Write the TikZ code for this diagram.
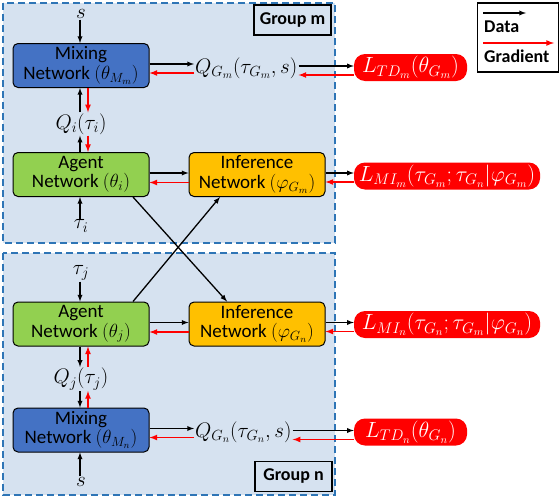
\documentclass[tikz,border=0pt]{standalone}
\usepackage{fix-cm}
\usepackage{fontspec}
\setmainfont{Carlito}
\usetikzlibrary{arrows, positioning, calc}
\definecolor{grpfill}{HTML}{D6E2F0}
\definecolor{grpline}{HTML}{2E75B6}
\definecolor{mixblue}{HTML}{4472C4}
\definecolor{agtgreen}{HTML}{92D050}
\definecolor{infgold}{HTML}{FFC000}

\begin{document}
\begin{tikzpicture}[x=1pt, y=-1pt,%
  group/.style={draw=grpline, line width=2.6pt, dash pattern=on 7pt off 4pt, fill=grpfill},%
  grplabel/.style={draw, line width=1.8pt, minimum width=77, minimum height=30, font=\bfseries\fontsize{18}{20}\selectfont},%
  net/.style={draw, rounded corners=5pt, line width=1pt, minimum width=136, minimum height=44, align=center, inner sep=0pt, font=\fontsize{19}{19.5}\selectfont},%
  loss/.style={fill=red, text=white, rounded corners=11pt, minimum height=27, inner sep=1pt, font=\fontsize{22}{24}\selectfont},%
  lbl/.style={inner sep=1pt, font=\fontsize{21}{23}\selectfont},%
  data/.style={->, >=latex, line width=1.3pt},%
  grad/.style={->, >=latex, line width=1.6pt, draw=red}%
]
  \useasboundingbox (0,0) rectangle (560,498);
  % Gruppen
  \draw[group] (3,3) rectangle (335,243);
  \draw[group] (3,253) rectangle (335,495);
  \node[grplabel] (labm) at (292.5,20) {Group m};
  \node[grplabel] (labn) at (293.5,476.5) {Group n};
  % Legende
  \node[draw, line width=1.8pt, minimum width=81, minimum height=69] (legend) at (518,37.5) {};
  \coordinate (dstart) at (483,13);
  \coordinate (gstart) at (483,43);
  \draw[data] (dstart) -- ++(43,0);
  \draw[grad] (gstart) -- ++(71,0);
  \node[anchor=west, inner sep=0pt, font=\bfseries\fontsize{18}{20}\selectfont] (ldata) at (484,27) {Data};
  \node[anchor=west, inner sep=0pt, font=\bfseries\fontsize{18}{20}\selectfont] (lgrad) at (484,56) {Gradient};
  % Gruppe m
  \node[net, fill=mixblue] (mixm) at (81,65.5) {Mixing\\Network $(\theta_{M_m})$};
  \node[net, fill=agtgreen] (agi) at (81,174.5) {Agent\\Network $(\theta_i)$};
  \node[net, fill=infgold] (infm) at (257,174.5) {Inference\\Network $(\varphi_{G_m})$};
  \node[lbl] (stop) at (81,14) {$s$};
  \node[lbl] (qi) at (81,124) {$Q_i(\tau_i)$};
  \node[lbl] (taui) at (81,226) {$\tau_i$};
  \node[lbl, anchor=west] (qgm) at (194,68) {$Q_{G_m}(\tau_{G_m},s)$};
  \node[loss, minimum width=113] (ltdm) at (410.5,67.5) {$L_{TD_m}(\theta_{G_m})$};
  \node[loss, minimum width=186] (lmim) at (447,176) {$L_{MI_m}(\tau_{G_m};\tau_{G_n}|\varphi_{G_m})$};
  % Gruppe n
  \node[net, fill=agtgreen] (agj) at (81,324) {Agent\\Network $(\theta_j)$};
  \node[net, fill=infgold] (infn) at (257,324) {Inference\\Network $(\varphi_{G_n})$};
  \node[net, fill=mixblue] (mixn) at (81,430) {Mixing\\Network $(\theta_{M_n})$};
  \node[lbl] (tauj) at (81,273) {$\tau_j$};
  \node[lbl] (qj) at (81,379) {$Q_j(\tau_j)$};
  \node[lbl] (sbot) at (81,482) {$s$};
  \node[lbl, anchor=west] (qgn) at (194,432) {$Q_{G_n}(\tau_{G_n},s)$};
  \node[loss, minimum width=186] (lmin) at (447,324.5) {$L_{MI_n}(\tau_{G_n};\tau_{G_m}|\varphi_{G_n})$};
  \node[loss, minimum width=113] (ltdn) at (410.5,432) {$L_{TD_n}(\theta_{G_n})$};
  % Pfeile oben
  \draw[data] ([xshift=-1]stop.south) -- ([xshift=-1]mixm.north);
  \draw[data] ([xshift=-1]qi.north) -- ([xshift=-1]mixm.south);
  \draw[grad] ([xshift=7]mixm.south) -- ([xshift=7]qi.north);
  \draw[data] ([xshift=-1]agi.north) -- ([xshift=-1]qi.south);
  \draw[grad] ([xshift=7]qi.south) -- ([xshift=7]agi.north);
  \draw[data] ([xshift=-1]taui.north) -- ([xshift=-1]agi.south);
  \draw[data] ([yshift=1.5]mixm.east) -- ([yshift=1.5]mixm.east -| qgm.west);
  \draw[grad] ([yshift=-7.5]mixm.east -| qgm.west) -- ([yshift=-7.5]mixm.east);
  \draw[data] ([yshift=1.5]ltdm.west -| qgm.east) -- ([yshift=1.5]ltdm.west);
  \draw[grad] ([yshift=-7.5]ltdm.west) -- ([yshift=-7.5]ltdm.west -| qgm.east);
  \draw[data] ([yshift=1.5]agi.east) -- ([yshift=1.5]infm.west);
  \draw[grad] ([yshift=-8]infm.west) -- ([yshift=-8]agi.east);
  \draw[data] ([yshift=1.5]infm.east) -- ([yshift=1.5]infm.east -| lmim.west);
  \draw[grad] ([yshift=-7.5]infm.east -| lmim.west) -- ([yshift=-7.5]infm.east);
  % Kreuz
  \draw[data] ([xshift=52]agi.south) -- ([xshift=-30]infn.north);
  \draw[data] ([xshift=52]agj.north) -- ([xshift=-37]infm.south);
  % Pfeile unten
  \draw[data] ([xshift=-1]tauj.south) -- ([xshift=-1]agj.north);
  \draw[data] ([xshift=-1]agj.south) -- ([xshift=-1]qj.north);
  \draw[grad] ([xshift=7]qj.north) -- ([xshift=7]agj.south);
  \draw[data] ([xshift=-1]qj.south) -- ([xshift=-1]mixn.north);
  \draw[grad] ([xshift=7]mixn.north) -- ([xshift=7]qj.south);
  \draw[data] ([xshift=-1]sbot.north) -- ([xshift=-1]mixn.south);
  \draw[data] ([yshift=1.5]agj.east) -- ([yshift=1.5]infn.west);
  \draw[grad] ([yshift=-8]infn.west) -- ([yshift=-8]agj.east);
  \draw[data] ([yshift=1.5]infn.east) -- ([yshift=1.5]infn.east -| lmin.west);
  \draw[grad] ([yshift=-7.5]infn.east -| lmin.west) -- ([yshift=-7.5]infn.east);
  \draw[data] ([yshift=1.5]mixn.east) -- ([yshift=1.5]mixn.east -| qgn.west);
  \draw[grad] ([yshift=-7.5]mixn.east -| qgn.west) -- ([yshift=-7.5]mixn.east);
  \draw[data] ([yshift=1.5]ltdn.west -| qgn.east) -- ([yshift=1.5]ltdn.west);
  \draw[grad] ([yshift=-7.5]ltdn.west) -- ([yshift=-7.5]ltdn.west -| qgn.east);
\end{tikzpicture}
\end{document}
